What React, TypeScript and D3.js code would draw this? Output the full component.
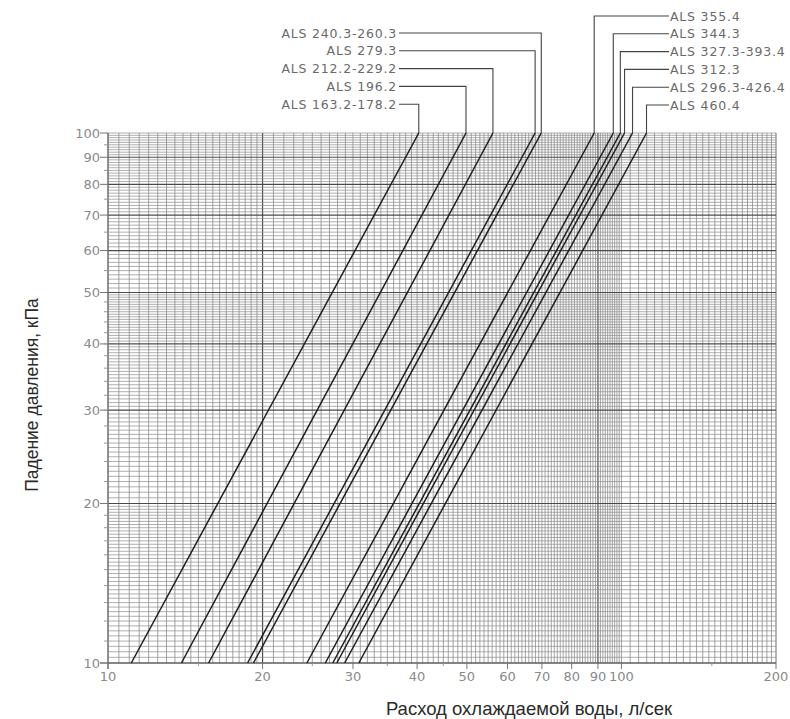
import * as d3 from 'd3';
import { useEffect, useRef } from 'react';

// models, flow (l/s) at 10 kPa and at 100 kPa
const models = [
    'ALS 163.2-178.2', 'ALS 196.2', 'ALS 212.2-229.2', 'ALS 240.3-260.3', 'ALS 279.3',
    'ALS 355.4', 'ALS 344.3', 'ALS 327.3-393.4', 'ALS 312.3', 'ALS 296.3-426.4', 'ALS 460.4'
];
const flowAt10 = [11.1, 13.9, 15.7, 19.2, 18.7, 24.4, 26.5, 27.4, 27.9, 28.9, 30.8];
const flowAt100 = [40.3, 49.8, 56.2, 69.8, 67.9, 88.5, 96.4, 99.5, 101.4, 105.1, 111.9];

// label stacking order (top to bottom)
const leftLabels = ['ALS 240.3-260.3', 'ALS 279.3', 'ALS 212.2-229.2', 'ALS 196.2', 'ALS 163.2-178.2'];
const rightLabels = ['ALS 355.4', 'ALS 344.3', 'ALS 327.3-393.4', 'ALS 312.3', 'ALS 296.3-426.4', 'ALS 460.4'];

const xTicks = [10, 20, 30, 40, 50, 60, 70, 80, 90, 100, 200];
const yTicks = [10, 20, 30, 40, 50, 60, 70, 80, 90, 100];

function steps(from, to, step) {
    const out = [];
    for (let v = from; v < to - 1e-9; v += step) out.push(+v.toFixed(3));
    return out;
}

export default function App() {
    const ref = useRef();

    useEffect(() => {
        const width = 790;
        const height = 719;
        const gridColor = '#8c8c8c';
        const darkGrid = '#4a4a4a';
        const tickFont = '"DejaVu Sans", sans-serif';
        const tickColor = '#8a8a8a';

        const x = d3.scaleLog().domain([10, 200]).range([108, 776]);
        const y = d3.scaleLog().domain([10, 100]).range([663, 133]);

        ref.current.innerHTML = '';
        const svg = d3
            .select(ref.current)
            .append('svg')
            .attr('width', width)
            .attr('height', height)
            .style('display', 'block')
            .style('background', '#fff');

        const vGrid = [...steps(10, 20, 0.5), ...steps(20, 100, 1), ...steps(100, 200, 4), 200];
        const hGrid = [...steps(10, 20, 0.25), ...steps(20, 50, 0.5), ...steps(50, 100, 1), 100];

        const grid = svg.append('g');
        grid.selectAll('line.v')
            .data(vGrid)
            .join('line')
            .attr('x1', d => x(d)).attr('x2', d => x(d))
            .attr('y1', y(100)).attr('y2', y(10))
            .attr('stroke', d => (d === 20 || d === 90 || d === 200 ? darkGrid : gridColor))
            .attr('stroke-width', d => (d === 20 || d === 90 ? 1.2 : 0.8));

        grid.selectAll('line.h')
            .data(hGrid)
            .join('line')
            .attr('x1', x(10)).attr('x2', x(200))
            .attr('y1', d => y(d)).attr('y2', d => y(d))
            .attr('stroke', d => (yTicks.includes(d) && d !== 100 ? darkGrid : gridColor))
            .attr('stroke-width', d => (yTicks.includes(d) && d !== 100 ? 1.1 : 0.7));

        // axes lines
        svg.append('line')
            .attr('x1', x(10)).attr('x2', x(10))
            .attr('y1', y(100)).attr('y2', y(10) + 6)
            .attr('stroke', '#666').attr('stroke-width', 1.2);
        svg.append('line')
            .attr('x1', x(10) - 8).attr('x2', x(200))
            .attr('y1', y(10)).attr('y2', y(10))
            .attr('stroke', '#666').attr('stroke-width', 1.2);

        // y ticks + labels
        const yAxis = svg.append('g');
        yAxis.selectAll('line.t')
            .data(yTicks)
            .join('line')
            .attr('x1', x(10) - 8).attr('x2', x(10))
            .attr('y1', d => y(d)).attr('y2', d => y(d))
            .attr('stroke', '#777');
        yAxis.selectAll('line.m')
            .data([...steps(11, 20, 1), ...steps(22, 50, 2), 55, 65, 75, 85, 95])
            .join('line')
            .attr('x1', x(10) - 4).attr('x2', x(10))
            .attr('y1', d => y(d)).attr('y2', d => y(d))
            .attr('stroke', '#999');
        yAxis.selectAll('text')
            .data(yTicks)
            .join('text')
            .attr('x', x(10) - 8)
            .attr('y', d => y(d) + 4.5)
            .attr('text-anchor', 'end')
            .attr('font-family', tickFont)
            .attr('font-size', 13)
            .attr('fill', tickColor)
            .text(d => d);

        // x ticks + labels
        const xAxis = svg.append('g');
        xAxis.selectAll('line.t')
            .data(xTicks)
            .join('line')
            .attr('x1', d => x(d)).attr('x2', d => x(d))
            .attr('y1', y(10)).attr('y2', y(10) + 6)
            .attr('stroke', '#777');
        xAxis.selectAll('line.m')
            .data([15, 25, 35, 45, 150])
            .join('line')
            .attr('x1', d => x(d)).attr('x2', d => x(d))
            .attr('y1', y(10)).attr('y2', y(10) + 3)
            .attr('stroke', '#999');
        xAxis.selectAll('text')
            .data(xTicks)
            .join('text')
            .attr('x', d => x(d))
            .attr('y', y(10) + 18)
            .attr('text-anchor', 'middle')
            .attr('font-family', tickFont)
            .attr('font-size', 13)
            .attr('fill', tickColor)
            .text(d => d);

        // curves
        const line = d3.line().x(d => x(d[0])).y(d => y(d[1]));
        svg.append('g')
            .selectAll('path')
            .data(models.map((m, i) => [[flowAt10[i], 10], [flowAt100[i], 100]]))
            .join('path')
            .attr('d', line)
            .attr('fill', 'none')
            .attr('stroke', '#1e1e1e')
            .attr('stroke-width', 1.5);

        // leaders and labels
        const labels = svg.append('g');
        const labelFont = '"DejaVu Sans", sans-serif';
        leftLabels.forEach((name, i) => {
            const idx = models.indexOf(name);
            const ly = 33 + i * 17.8;
            const lx = x(flowAt100[idx]);
            labels.append('path')
                .attr('d', `M399,${ly}H${lx}V${y(100)}`)
                .attr('fill', 'none')
                .attr('stroke', '#444')
                .attr('stroke-width', 1.1);
            labels.append('text')
                .attr('x', 397)
                .attr('y', ly + 4.5)
                .attr('text-anchor', 'end')
                .attr('font-family', labelFont)
                .attr('font-size', 12.5)
                .attr('letter-spacing', 0.8)
                .attr('fill', '#6a6a6a')
                .text(name);
        });
        rightLabels.forEach((name, i) => {
            const idx = models.indexOf(name);
            const ly = 16 + i * 17.8;
            const lx = x(flowAt100[idx]);
            labels.append('path')
                .attr('d', `M669,${ly}H${lx}V${y(100)}`)
                .attr('fill', 'none')
                .attr('stroke', '#444')
                .attr('stroke-width', 1.1);
            labels.append('text')
                .attr('x', 670)
                .attr('y', ly + 4.5)
                .attr('text-anchor', 'start')
                .attr('font-family', labelFont)
                .attr('font-size', 12.5)
                .attr('letter-spacing', 0.8)
                .attr('fill', '#6a6a6a')
                .text(name);
        });

        // axis titles
        svg.append('text')
            .attr('transform', 'translate(38,395) rotate(-90)')
            .attr('text-anchor', 'middle')
            .attr('font-family', '"Liberation Sans", Arial, sans-serif')
            .attr('font-size', 17.5)
            .attr('fill', '#2a2a2a')
            .text('Падение давления, кПа');
        svg.append('text')
            .attr('x', 529)
            .attr('y', 715)
            .attr('text-anchor', 'middle')
            .attr('font-family', '"Liberation Sans", Arial, sans-serif')
            .attr('font-size', 18.5)
            .attr('fill', '#2a2a2a')
            .text('Расход охлаждаемой воды, л/сек');
    }, []);

    return <div ref={ref} style={{ position: 'absolute', left: 0, top: 0 }}></div>;
}
